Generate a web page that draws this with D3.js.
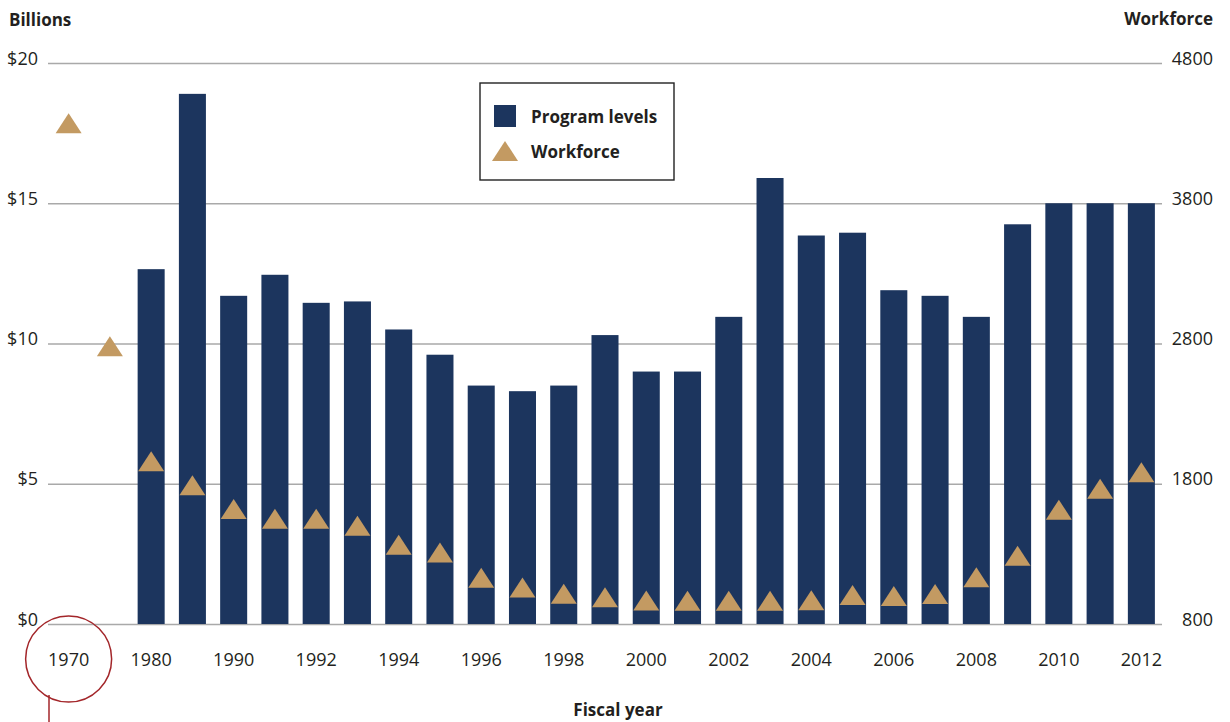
<!DOCTYPE html>
<html>
<head>
    <meta charset="utf-8">
    <title>Program levels and workforce</title>
    <script type="text/javascript" src="https://cdn.jsdelivr.net/npm/d3@7"></script>

    <style>
        body {
            margin: 0;
            background: #fff;
        }

        text {
            font-family: "Open Sans", "Noto Sans", sans-serif;
            fill: #231f20;
        }

        g.grid path.domain, g.axis path.domain, g.axis g.tick line {
            stroke: none;
        }

        g.grid g.tick line {
            stroke: #a9a9a9;
            stroke-width: 1.3;
        }
    </style>
</head>

<body>

<script type="text/javascript">
var years = [1970, 1975, 1980, 1985, 1990, 1991, 1992, 1993, 1994, 1995, 1996, 1997, 1998,
    1999, 2000, 2001, 2002, 2003, 2004, 2005, 2006, 2007, 2008, 2009, 2010, 2011, 2012];

var yearLabels = ["1970", "", "1980", "", "1990", "", "1992", "", "1994", "", "1996", "", "1998",
    "", "2000", "", "2002", "", "2004", "", "2006", "", "2008", "", "2010", "", "2012"];

// billions of dollars, no bars for 1970 and 1975
var programLevels = [null, null, 12.65, 18.9, 11.7, 12.45, 11.45, 11.5, 10.5, 9.6, 8.5, 8.3, 8.5,
    10.3, 9.0, 9.0, 10.95, 15.9, 13.85, 13.95, 11.9, 11.7, 10.95, 14.25, 15.0, 15.0, 15.0];

var workforce = [4370, 2780, 1960, 1790, 1620, 1550, 1550, 1500, 1365, 1310, 1130, 1060, 1015,
    990, 968, 966, 965, 965, 970, 1007, 1000, 1014, 1133, 1287, 1615, 1765, 1882];

var dollarTicks = [0, 5, 10, 15, 20];
var workforceTicks = [800, 1800, 2800, 3800, 4800];

var width = 1230, height = 722,
        margins = {top: 63, left: 48, right: 68, bottom: 98},
        navy = "#1c355e",
        tan = "#c39a62";

var svg = d3.select("body").append("svg")
        .attr("width", width)
        .attr("height", height);

var x = d3.scaleBand()
        .domain(years)
        .range([margins.left, width - margins.right])
        .paddingInner(0.345)
        .paddingOuter(0.1725);

var yLeft = d3.scaleLinear()
        .domain([0, 20])
        .range([height - margins.bottom, margins.top]);

var yRight = d3.scaleLinear()
        .domain([800, 4800])
        .range([height - margins.bottom, margins.top]);

// grid lines
svg.append("g")
        .attr("class", "grid")
        .attr("transform", "translate(" + margins.left + ",0)")
        .call(d3.axisLeft(yLeft)
                .tickValues(dollarTicks)
                .tickSize(-(width - margins.left - margins.right))
                .tickFormat(""));

// left axis labels
var leftAxis = svg.append("g")
        .attr("class", "axis")
        .attr("transform", "translate(" + margins.left + ",0)")
        .call(d3.axisLeft(yLeft)
                .tickValues(dollarTicks)
                .tickSize(0)
                .tickPadding(10)
                .tickFormat(function (d) { return "$" + d; }));

leftAxis.selectAll("text")
        .attr("dy", null)
        .attr("y", 1)
        .style("font-size", "18px");

// right axis labels
var rightAxis = svg.append("g")
        .attr("class", "axis")
        .attr("transform", "translate(" + (width - margins.right) + ",0)")
        .call(d3.axisRight(yRight)
                .tickValues(workforceTicks)
                .tickSize(0)
                .tickFormat(d3.format("d")));

rightAxis.selectAll("text")
        .attr("dy", null)
        .attr("y", 1)
        .attr("x", 51)
        .attr("text-anchor", "end")
        .style("font-size", "18px");

// x axis labels
var xAxis = svg.append("g")
        .attr("class", "axis")
        .attr("transform", "translate(0," + (height - margins.bottom) + ")")
        .call(d3.axisBottom(x)
                .tickSize(0)
                .tickPadding(0)
                .tickFormat(function (d, i) { return yearLabels[i]; }));

xAxis.selectAll("text")
        .attr("dy", null)
        .attr("y", 42)
        .style("font-size", "18px");

// bars
svg.append("g")
        .attr("class", "bars")
        .selectAll("rect")
        .data(years.filter(function (d, i) { return programLevels[i] !== null; }))
        .enter()
        .append("rect")
        .attr("x", function (d) { return x(d); })
        .attr("width", x.bandwidth())
        .attr("y", function (d) { return yLeft(programLevels[years.indexOf(d)]); })
        .attr("height", function (d) {
            return yLeft(0) - yLeft(programLevels[years.indexOf(d)]);
        })
        .style("fill", navy);

function trianglePath(cx, cy) {
    var w = 26, h = 20;
    return "M" + (cx - w / 2) + "," + (cy + h / 2)
            + "L" + cx + "," + (cy - h / 2)
            + "L" + (cx + w / 2) + "," + (cy + h / 2) + "Z";
}

// workforce markers
svg.append("g")
        .attr("class", "markers")
        .selectAll("path")
        .data(workforce)
        .enter()
        .append("path")
        .attr("d", function (d, i) {
            return trianglePath(x(years[i]) + x.bandwidth() / 2, yRight(d));
        })
        .style("fill", tan);

// axis titles
svg.append("text")
        .attr("x", 9)
        .attr("y", 26)
        .style("font-size", "17px")
        .style("font-weight", "bold")
        .text("Billions");

svg.append("text")
        .attr("x", 1213)
        .attr("y", 25)
        .attr("text-anchor", "end")
        .style("font-size", "17px")
        .style("font-weight", "bold")
        .text("Workforce");

svg.append("text")
        .attr("x", 618)
        .attr("y", 716)
        .attr("text-anchor", "middle")
        .style("font-size", "17px")
        .style("font-weight", "bold")
        .text("Fiscal year");

// legend
var legend = svg.append("g")
        .attr("class", "legend")
        .attr("transform", "translate(480,83)");

legend.append("rect")
        .attr("width", 194)
        .attr("height", 97)
        .style("fill", "#fff")
        .style("stroke", "#222")
        .style("stroke-width", 1.4);

legend.append("rect")
        .attr("x", 14)
        .attr("y", 22)
        .attr("width", 22)
        .attr("height", 22)
        .style("fill", navy);

legend.append("path")
        .attr("d", trianglePath(25, 68))
        .style("fill", tan);

legend.append("text")
        .attr("x", 51)
        .attr("y", 40)
        .style("font-size", "17px")
        .style("font-weight", "bold")
        .text("Program levels");

legend.append("text")
        .attr("x", 51)
        .attr("y", 75)
        .style("font-size", "17px")
        .style("font-weight", "bold")
        .text("Workforce");

// annotation round the 1970 label
var cx1970 = x(1970) + x.bandwidth() / 2;

svg.append("circle")
        .attr("cx", cx1970)
        .attr("cy", 659)
        .attr("r", 43)
        .style("fill", "none")
        .style("stroke", "#a3262a")
        .style("stroke-width", 1.5);

svg.append("line")
        .attr("x1", 49)
        .attr("x2", 49)
        .attr("y1", 695)
        .attr("y2", height)
        .style("stroke", "#a3262a")
        .style("stroke-width", 1.5);
</script>

</body>

</html>
